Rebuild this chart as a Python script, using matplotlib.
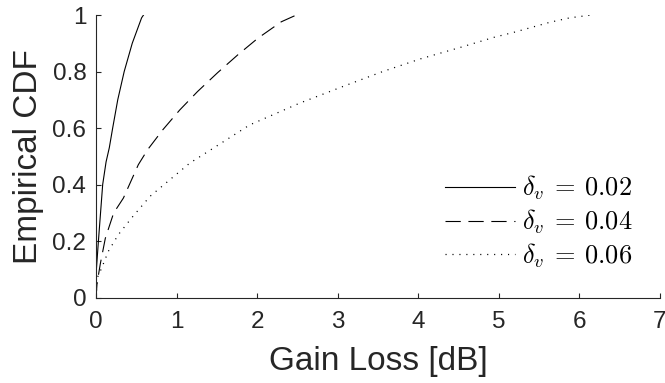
import matplotlib
matplotlib.use("Agg")
import matplotlib.pyplot as plt

# data
x02 = [0, 0.005, 0.03, 0.083, 0.125, 0.165, 0.207, 0.27, 0.35, 0.45, 0.566, 0.59]
y02 = [0, 0.10, 0.20, 0.40, 0.48, 0.53, 0.60, 0.70, 0.80, 0.90, 0.99, 1.0]

x04 = [0, 0.013, 0.054, 0.116, 0.219, 0.34, 0.525, 0.64, 0.83, 1.04, 1.26, 1.51,
       1.76, 2.01, 2.30, 2.487]
y04 = [0, 0.05, 0.12, 0.21, 0.299, 0.352, 0.470, 0.523, 0.594, 0.664, 0.729, 0.796,
       0.859, 0.918, 0.976, 1.0]

x06 = [0, 0.016, 0.07, 0.152, 0.276, 0.44, 0.67, 0.917, 1.165, 1.392, 1.908, 2.528,
       3.065, 3.56, 4.03, 4.53, 4.94, 5.19, 5.63, 5.88, 6.15]
y06 = [0, 0.07, 0.104, 0.163, 0.222, 0.281, 0.358, 0.417, 0.476, 0.517, 0.611, 0.688,
       0.747, 0.80, 0.845, 0.886, 0.921, 0.939, 0.974, 0.99, 1.0]

labels = [r'$\delta_v\: = \:0.02$', r'$\delta_v\: = \:0.04$', r'$\delta_v\: = \:0.06$']
xticks = [0, 1, 2, 3, 4, 5, 6, 7]
yticks = [0, 0.2, 0.4, 0.6, 0.8, 1]
yticklabels = ['0', '0.2', '0.4', '0.6', '0.8', '1']

plt.rcParams['font.family'] = ['Liberation Sans', 'DejaVu Sans']
plt.rcParams['mathtext.fontset'] = 'cm'
plt.rcParams['lines.scale_dashes'] = False

axc = '#262626'
fig = plt.figure(figsize=(6.65, 3.83), dpi=100)
ax = fig.add_axes([96/665, 1-297.5/383, (660-96)/665, (297.5-15)/383])

ax.plot(x02, y02, color='black', lw=0.8, ls='-', label=labels[0])
ax.plot(x04, y04, color='black', lw=0.8, ls=(0, (11, 5.5)), label=labels[1])
ax.plot(x06, y06, color='black', lw=0.9, ls=(0, (0.8, 4.2)), label=labels[2])

ax.set_xlim(0, 7)
ax.set_ylim(0, 1)
ax.set_xticks(xticks)
ax.set_xticklabels([str(t) for t in xticks])
ax.set_yticks(yticks)
ax.set_yticklabels(yticklabels)

for s in ['top', 'right']:
    ax.spines[s].set_visible(False)
for s in ['left', 'bottom']:
    ax.spines[s].set_color(axc)
    ax.spines[s].set_linewidth(0.8)

ax.tick_params(axis='both', direction='in', length=3.5, width=0.8, color=axc,
               labelcolor=axc, labelsize=17.5)
ax.tick_params(axis='x', pad=10)
ax.tick_params(axis='y', pad=7)

ax.set_xlabel('Gain Loss [dB]', fontsize=24, color=axc, labelpad=9)
ax.set_ylabel('Empirical CDF', fontsize=24, color=axc, labelpad=6)

leg = ax.legend(loc='lower right', bbox_to_anchor=(0.97, 0.06), frameon=False,
                fontsize=19, handlelength=2.65, handletextpad=0.25,
                labelspacing=0.2, borderaxespad=0)

fig.savefig('out.png', dpi=100)
